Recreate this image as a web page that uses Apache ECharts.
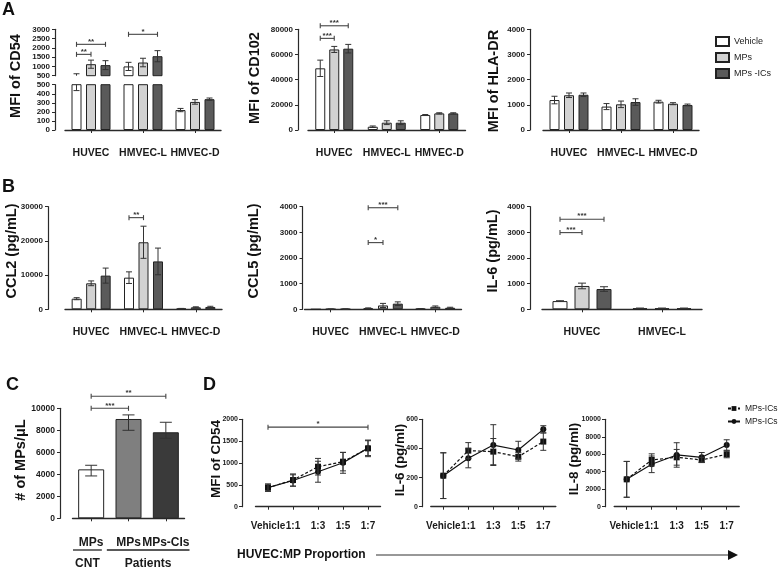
<!DOCTYPE html>
<html><head><meta charset="utf-8">
<script src="https://cdn.jsdelivr.net/npm/echarts@6/dist/echarts.min.js"></script>
<style>html,body{margin:0;padding:0;background:#fff}#c{width:778px;height:569px}</style>
</head><body><div id="c"></div><script>
// ---------------- DATA ----------------
const CELLS3 = ['HUVEC', 'HMVEC-L', 'HMVEC-D'];
const CELLS2 = ['HUVEC', 'HMVEC-L'];
const GROUPS = ['Vehicle', 'MPs', 'MPs -ICs'];

// A: MFI of CD54 (broken axis)
const cd54Vehicle = [520, 1000, 220];
const cd54MPs = [1120, 1210, 310];
const cd54MPsICs = [1070, 1550, 340];
const cd54VehicleErr = [85, 220, 18];
const cd54MPsErr = [220, 230, 25];
const cd54MPsICsErr = [240, 300, 13];
const cd54Sig = [[0, 0, 0, 1, 1650, '**'], [0, 0, 0, 2, 2190, '**'], [1, 0, 1, 2, 2730, '*']];
const cd54UpperTicks = [500, 3000, 500];
const cd54LowerTicks = [0, 500, 100];

// A: MFI of CD102
const cd102Vehicle = [49000, 2600, 11900];
const cd102MPs = [64000, 5800, 13200];
const cd102MPsICs = [64600, 5800, 13200];
const cd102VehicleErr = [6500, 600, 400];
const cd102MPsErr = [2400, 1500, 500];
const cd102MPsICsErr = [3400, 1500, 500];
const cd102Sig = [[0, 0, 0, 1, 72800, '***'], [0, 0, 0, 2, 82800, '***']];
const cd102Ticks = [0, 80000, 20000];

// A: MFI of HLA-DR
const hlaVehicle = [1190, 930, 1125];
const hlaMPs = [1380, 1020, 1045];
const hlaMPsICs = [1400, 1110, 995];
const hlaVehicleErr = [150, 120, 55];
const hlaMPsErr = [90, 130, 40];
const hlaMPsICsErr = [70, 130, 35];
const hlaTicks = [0, 4000, 1000];

// B: CCL2
const ccl2Vehicle = [3100, 9250, 200];
const ccl2MPs = [7600, 19600, 580];
const ccl2MPsICs = [9850, 14000, 680];
const ccl2VehicleErr = [300, 1700, 60];
const ccl2MPsErr = [700, 4700, 150];
const ccl2MPsICsErr = [2200, 3900, 200];
const ccl2Sig = [[1, 0, 1, 1, 26800, '**']];
const ccl2Ticks = [0, 30000, 10000];

// B: CCL5
const ccl5Vehicle = [0, 40, 20];
const ccl5MPs = [8, 150, 100];
const ccl5MPsICs = [10, 220, 60];
const ccl5VehicleErr = [0, 15, 10];
const ccl5MPsErr = [3, 80, 30];
const ccl5MPsICsErr = [3, 70, 20];
const ccl5Sig = [[1, 0, 1, 1, 2600, '*'], [1, 0, 1, 2, 3960, '***']];
const ccl5Ticks = [0, 4000, 1000];

// B: IL-6
const il6Vehicle = [320, 40];
const il6MPs = [910, 40];
const il6MPsICs = [790, 40];
const il6VehicleErr = [15, 8];
const il6MPsErr = [110, 8];
const il6MPsICsErr = [90, 8];
const il6Sig = [[0, 0, 0, 1, 2990, '***'], [0, 0, 0, 2, 3510, '***']];
const il6Ticks = [0, 4000, 1000];

// C: number of MPs
const cLabels = ['MPs', 'MPs', 'MPs-CIs'];
const cValues = [4450, 9030, 7820];
const cErrLow = [600, 1030, 550];
const cErrHigh = [370, 370, 910];
const cSig = [[0, 0, 1, 0, 10000, '***'], [0, 0, 2, 0, 11100, '**']];
const cGroups = [['CNT', 0, 0], ['Patients', 1, 2]];
const cTicks = [0, 10000, 2000];

// D: dose response
const PROPORTIONS = ['Vehicle', '1:1', '1:3', '1:5', '1:7'];
const D_SERIES = ['MPs-ICs', 'MPs-ICs '];
const dCd54Sq = [435, 610, 915, 1030, 1335];
const dCd54SqErr = [85, 140, 190, 210, 190];
const dCd54Ci = [435, 600, 800, 1005, 1340];
const dCd54CiErr = [80, 130, 240, 240, 170];
const dCd54Sig = [[0, 0, 4, 0, 1820, '*']];
const dCd54Ticks = [0, 2000, 500];
const dIl6Sq = [213, 385, 378, 343, 447];
const dIl6SqErr = [157, 55, 90, 30, 60];
const dIl6Ci = [213, 332, 423, 389, 531];
const dIl6CiErr = [157, 65, 140, 60, 25];
const dIl6Ticks = [0, 600, 200];
const dIl8Sq = [3130, 5350, 5650, 5350, 6000];
const dIl8SqErr = [2050, 700, 900, 300, 400];
const dIl8Ci = [3130, 4850, 5920, 5650, 7060];
const dIl8CiErr = [2050, 950, 1400, 550, 600];
const dIl8Ticks = [0, 10000, 2000];

// ---------------- BUILD ----------------
const FONT = '"Liberation Sans", Arial, sans-serif';
const AX = '#2a2a2a';
const BAR_COLORS = ['#ffffff', '#d2d2d2', '#5a5a5a'];
const C_COLORS = ['#ffffff', '#7f7f7f', '#3a3a3a'];

const grids = [], xAxes = [], yAxes = [], series = [];

function addPanel(g, cats, ticks, o) {
  grids.push(Object.assign({ containLabel: false, outerBoundsMode: 'none' }, g));
  const gi = grids.length - 1;
  xAxes.push({
    gridIndex: gi, type: 'category', data: cats, boundaryGap: true, show: o.xShow !== false,
    offset: o.xOffset || 0,
    axisLine: { show: true, lineStyle: { color: AX, width: 1.4 } },
    axisTick: { show: true, alignWithLabel: true, length: 3, lineStyle: { color: AX, width: 1 } },
    axisLabel: { show: true, interval: 0, margin: o.xMargin || 5.5, fontSize: o.xFont || 10.5,
      fontWeight: 'bold', color: '#1a1a1a', fontFamily: FONT },
    splitLine: { show: false }
  });
  yAxes.push({
    gridIndex: gi, type: 'value', min: ticks[0], max: ticks[1], interval: ticks[2],
    offset: o.yOffset || 0,
    axisLine: { show: true, lineStyle: { color: AX, width: 1.2 } },
    axisTick: { show: true, length: 3, lineStyle: { color: AX, width: 1 } },
    axisLabel: { margin: o.yMargin || 5, fontSize: o.yFont || 8, fontWeight: 'bold', color: '#1a1a1a',
      fontFamily: FONT, formatter: v => String(v) },
    splitLine: { show: false }
  });
  return gi;
}

function addBars(ai, data, names, colors, barW, step) {
  const gap = ((step - barW) / barW * 100).toFixed(1) + '%';
  data.forEach((d, k) => series.push({
    type: 'bar', name: names[k], xAxisIndex: ai, yAxisIndex: ai, data: d,
    barWidth: barW, barGap: gap, clip: true, z: 2,
    itemStyle: { color: colors[k], borderColor: '#222', borderWidth: 1 },
    emphasis: { disabled: true }
  }));
}

function addErr(ai, values, errLo, errHi, k, n, step, cap) {
  series.push({
    type: 'custom', xAxisIndex: ai, yAxisIndex: ai, z: 5, silent: true,
    encode: { x: 0, y: 1 },
    data: values.map((v, i) => [i, v, errLo[i], errHi[i]]),
    renderItem(params, api) {
      const cs = params.coordSys;
      const i = api.value(0), v = api.value(1);
      const x = api.coord([i, v])[0] + (k - (n - 1) / 2) * step;
      const yT = api.coord([i, v + api.value(3)])[1];
      const yB = api.coord([i, v - api.value(2)])[1];
      const top = Math.max(yT, cs.y), bot = Math.min(yB, cs.y + cs.height);
      if (top >= bot) return null;
      const st = { stroke: '#333', lineWidth: 1 };
      const ch = [{ type: 'line', shape: { x1: x, y1: top, x2: x, y2: bot }, style: st }];
      if (yT >= cs.y - 0.5) ch.push({ type: 'line', shape: { x1: x - cap / 2, y1: yT, x2: x + cap / 2, y2: yT }, style: st });
      if (yB <= cs.y + cs.height + 0.5) ch.push({ type: 'line', shape: { x1: x - cap / 2, y1: yB, x2: x + cap / 2, y2: yB }, style: st });
      return { type: 'group', children: ch };
    }
  });
}

function addSig(ai, sig, n, step) {
  series.push({
    type: 'custom', xAxisIndex: ai, yAxisIndex: ai, z: 6, silent: true, clip: false,
    encode: { x: 0, y: 4 },
    data: sig.map(s => [s[0], s[1], s[2], s[3], s[4]]),
    renderItem(params, api) {
      const s = sig[params.dataIndex];
      const x1 = api.coord([s[0], s[4]])[0] + (s[1] - (n - 1) / 2) * step;
      const x2 = api.coord([s[2], s[4]])[0] + (s[3] - (n - 1) / 2) * step;
      const y = api.coord([s[0], s[4]])[1];
      const st = { stroke: '#444', lineWidth: 1.1 };
      return { type: 'group', children: [
        { type: 'line', shape: { x1, y1: y, x2, y2: y }, style: st },
        { type: 'line', shape: { x1, y1: y - 2.5, x2: x1, y2: y + 2.5 }, style: st },
        { type: 'line', shape: { x1: x2, y1: y - 2.5, x2, y2: y + 2.5 }, style: st },
        { type: 'text', x: (x1 + x2) / 2, y: y + 1, style: { text: s[5], fill: '#333', fontSize: 8,
          fontWeight: 'bold', fontFamily: FONT, align: 'center', verticalAlign: 'bottom' } }
      ] };
    }
  });
}

function barPanel(g, cats, ticks, o, vals, errs, sig) {
  const ai = addPanel(g, cats, ticks, o);
  addBars(ai, vals, GROUPS, BAR_COLORS, o.barW, o.step);
  vals.forEach((v, k) => addErr(ai, v, errs[k], errs[k], k, 3, o.step, o.cap || 6));
  if (sig) addSig(ai, sig, 3, o.step);
  return ai;
}

// Panel A1 CD54 (two segments)
{
  const vals = [cd54Vehicle, cd54MPs, cd54MPsICs];
  const errs = [cd54VehicleErr, cd54MPsErr, cd54MPsICsErr];
  const up = { barW: 10, step: 14.5, yOffset: 10, xShow: false };
  const ai = addPanel({ left: 65, top: 29.3, width: 156, height: 46.4 }, CELLS3, cd54UpperTicks, up);
  addBars(ai, vals.map(v => v.map(x => x > cd54UpperTicks[0] ? x : '-')), GROUPS, BAR_COLORS, 10, 14.5);
  vals.forEach((v, k) => addErr(ai, v, errs[k], errs[k], k, 3, 14.5, 6));
  addSig(ai, cd54Sig, 3, 14.5);
  barPanel({ left: 65, top: 84.7, width: 156, height: 45.3 }, CELLS3, cd54LowerTicks,
    { barW: 10, step: 14.5, yOffset: 10, xOffset: 12 }, vals, errs, null);
}
barPanel({ left: 308, top: 29.3, width: 157.5, height: 100.7 }, CELLS3, cd102Ticks,
  { barW: 10, step: 14, yOffset: 10, xOffset: 12 },
  [cd102Vehicle, cd102MPs, cd102MPsICs], [cd102VehicleErr, cd102MPsErr, cd102MPsICsErr], cd102Sig);
barPanel({ left: 543, top: 29.3, width: 156, height: 100.7 }, CELLS3, hlaTicks,
  { barW: 10, step: 14.5, yOffset: 13, xOffset: 12 },
  [hlaVehicle, hlaMPs, hlaMPsICs], [hlaVehicleErr, hlaMPsErr, hlaMPsICsErr], null);
barPanel({ left: 65, top: 206.7, width: 157, height: 102.6 }, CELLS3, ccl2Ticks,
  { barW: 10, step: 14.5, yOffset: 17, xOffset: 12 },
  [ccl2Vehicle, ccl2MPs, ccl2MPsICs], [ccl2VehicleErr, ccl2MPsErr, ccl2MPsICsErr], ccl2Sig);
barPanel({ left: 304.5, top: 206.7, width: 157, height: 102.6 }, CELLS3, ccl5Ticks,
  { barW: 10, step: 14.8, yOffset: 2, xOffset: 12 },
  [ccl5Vehicle, ccl5MPs, ccl5MPsICs], [ccl5VehicleErr, ccl5MPsErr, ccl5MPsICsErr], ccl5Sig);
barPanel({ left: 542, top: 206.7, width: 160, height: 102.6 }, CELLS2, il6Ticks,
  { barW: 15, step: 22, yOffset: 12, xOffset: 12, cap: 8 },
  [il6Vehicle, il6MPs, il6MPsICs], [il6VehicleErr, il6MPsErr, il6MPsICsErr], il6Sig);

// Panel C
{
  const ai = addPanel({ left: 72.5, top: 408.3, width: 112, height: 110 }, cLabels, cTicks,
    { yOffset: 12.5, xOffset: 11.7, xFont: 12, xMargin: 7, yFont: 8.5 });
  series.push({
    type: 'bar', name: 'count', xAxisIndex: ai, yAxisIndex: ai, barWidth: 26, z: 2,
    data: cValues.map((v, i) => ({ value: v, itemStyle: { color: C_COLORS[i] } })),
    itemStyle: { borderColor: '#222', borderWidth: 1 }, emphasis: { disabled: true }
  });
  addErr(ai, cValues, cErrLow, cErrHigh, 0, 1, 0, 12);
  addSig(ai, cSig, 1, 0);
  series.push({
    type: 'custom', xAxisIndex: ai, yAxisIndex: ai, silent: true, clip: false, z: 6,
    encode: { x: 0, y: 1 },
    data: cGroups.map(g => [g[1], 0]),
    renderItem(params, api) {
      const g = cGroups[params.dataIndex];
      const cs = params.coordSys;
      const band = api.size([1, 0])[0];
      const first = params.dataIndex === 0;
      const x1 = api.coord([g[1], 0])[0] - band / 2 + (first ? 0.5 : -3);
      const x2 = api.coord([g[2], 0])[0] + band / 2 + (first ? -8 : 5);
      const y = cs.y + cs.height + 31.7;
      return { type: 'group', children: [
        { type: 'line', shape: { x1, y1: y, x2, y2: y }, style: { stroke: '#222', lineWidth: 1.3 } },
        { type: 'text', x: (x1 + x2) / 2, y: y + 14, style: { text: g[0], fill: '#1a1a1a', fontSize: 12,
          fontWeight: 'bold', fontFamily: FONT, align: 'center', verticalAlign: 'middle' } }
      ] };
    }
  });
}

// Panel D
function linePanel(g, ticks, yOffset, sq, sqErr, ci, ciErr, sig) {
  const ai = addPanel(g, PROPORTIONS, ticks, { yOffset, xOffset: 10, xFont: 10, xMargin: 5, yFont: 7, yMargin: 4 });
  addErr(ai, sq, sqErr, sqErr, 0, 1, 0, 6);
  addErr(ai, ci, ciErr, ciErr, 0, 1, 0, 6);
  series.push({
    type: 'line', name: D_SERIES[0], xAxisIndex: ai, yAxisIndex: ai, data: sq, z: 4,
    symbol: 'rect', symbolSize: 6, itemStyle: { color: '#111' },
    lineStyle: { color: '#111', width: 1.2, type: [3, 2] }, emphasis: { disabled: true }
  });
  series.push({
    type: 'line', name: D_SERIES[1], xAxisIndex: ai, yAxisIndex: ai, data: ci, z: 4,
    symbol: 'circle', symbolSize: 6, itemStyle: { color: '#111' },
    lineStyle: { color: '#111', width: 1.2 }, emphasis: { disabled: true }
  });
  if (sig) addSig(ai, sig, 1, 0);
}
linePanel({ left: 255.5, top: 419.3, width: 125, height: 87.4 }, dCd54Ticks, 13.5, dCd54Sq, dCd54SqErr, dCd54Ci, dCd54CiErr, dCd54Sig);
linePanel({ left: 430.8, top: 419.3, width: 125, height: 87.4 }, dIl6Ticks, 8.8, dIl6Sq, dIl6SqErr, dIl6Ci, dIl6CiErr, null);
linePanel({ left: 614.2, top: 419.3, width: 125, height: 87.4 }, dIl8Ticks, 9.2, dIl8Sq, dIl8SqErr, dIl8Ci, dIl8CiErr, null);

// Text elements
const Y_TITLES = [
  ['MFI of CD54', 16, 76, 14.5], ['MFI of CD102', 255, 78, 14.5], ['MFI of HLA-DR', 494, 81, 14.5],
  ['CCL2 (pg/mL)', 12, 251, 14.5], ['CCL5 (pg/mL)', 254, 251, 14.5], ['IL-6 (pg/mL)', 493, 251, 14.5],
  ['# of MPs/\u03bcL', 21, 460, 14.5], ['MFI of CD54', 216, 459, 13.5], ['IL-6 (pg/ml)', 400, 460, 13.5],
  ['IL-8 (pg/ml)', 574, 459, 13.5]
];
const LETTERS = [['A', 2, 1], ['B', 2, 178], ['C', 6, 376], ['D', 203, 376]];
const graphic = [];
Y_TITLES.forEach(t => graphic.push({
  type: 'text', x: t[1], y: t[2], rotation: Math.PI / 2, silent: true,
  style: { text: t[0], fill: '#111', fontSize: t[3], fontWeight: 'bold', fontFamily: FONT, align: 'center', verticalAlign: 'middle' }
}));
LETTERS.forEach(t => graphic.push({
  type: 'text', x: t[1], y: t[2], silent: true,
  style: { text: t[0], fill: '#111', fontSize: 18, fontWeight: 'bold', fontFamily: FONT, align: 'left', verticalAlign: 'top' }
}));
graphic.push({ type: 'text', x: 237, y: 555, silent: true,
  style: { text: 'HUVEC:MP Proportion', fill: '#111', fontSize: 12, fontWeight: 'bold', fontFamily: FONT, align: 'left', verticalAlign: 'middle' } });
graphic.push({ type: 'line', silent: true, shape: { x1: 376, y1: 555, x2: 730, y2: 555 }, style: { stroke: '#333', lineWidth: 1.2 } });
graphic.push({ type: 'polygon', silent: true, shape: { points: [[728, 550], [738, 555], [728, 560]] }, style: { fill: '#111' } });

const chart = echarts.init(document.getElementById('c'), null, { renderer: 'canvas' });
chart.setOption({
  animation: false,
  backgroundColor: '#fff',
  textStyle: { fontFamily: FONT },
  grid: grids, xAxis: xAxes, yAxis: yAxes, series: series, graphic: graphic,
  legend: [
    { data: GROUPS, orient: 'vertical', left: 710, top: 31, icon: 'rect', itemWidth: 13, itemHeight: 9,
      itemGap: 5, selectedMode: false, textStyle: { fontSize: 9, color: '#222', fontFamily: FONT } },
    { data: D_SERIES, orient: 'vertical', left: 722, top: 399, itemWidth: 12, itemHeight: 6,
      itemGap: 4, selectedMode: false, textStyle: { fontSize: 8.5, color: '#222', fontFamily: FONT } }
  ]
});
</script></body></html>
